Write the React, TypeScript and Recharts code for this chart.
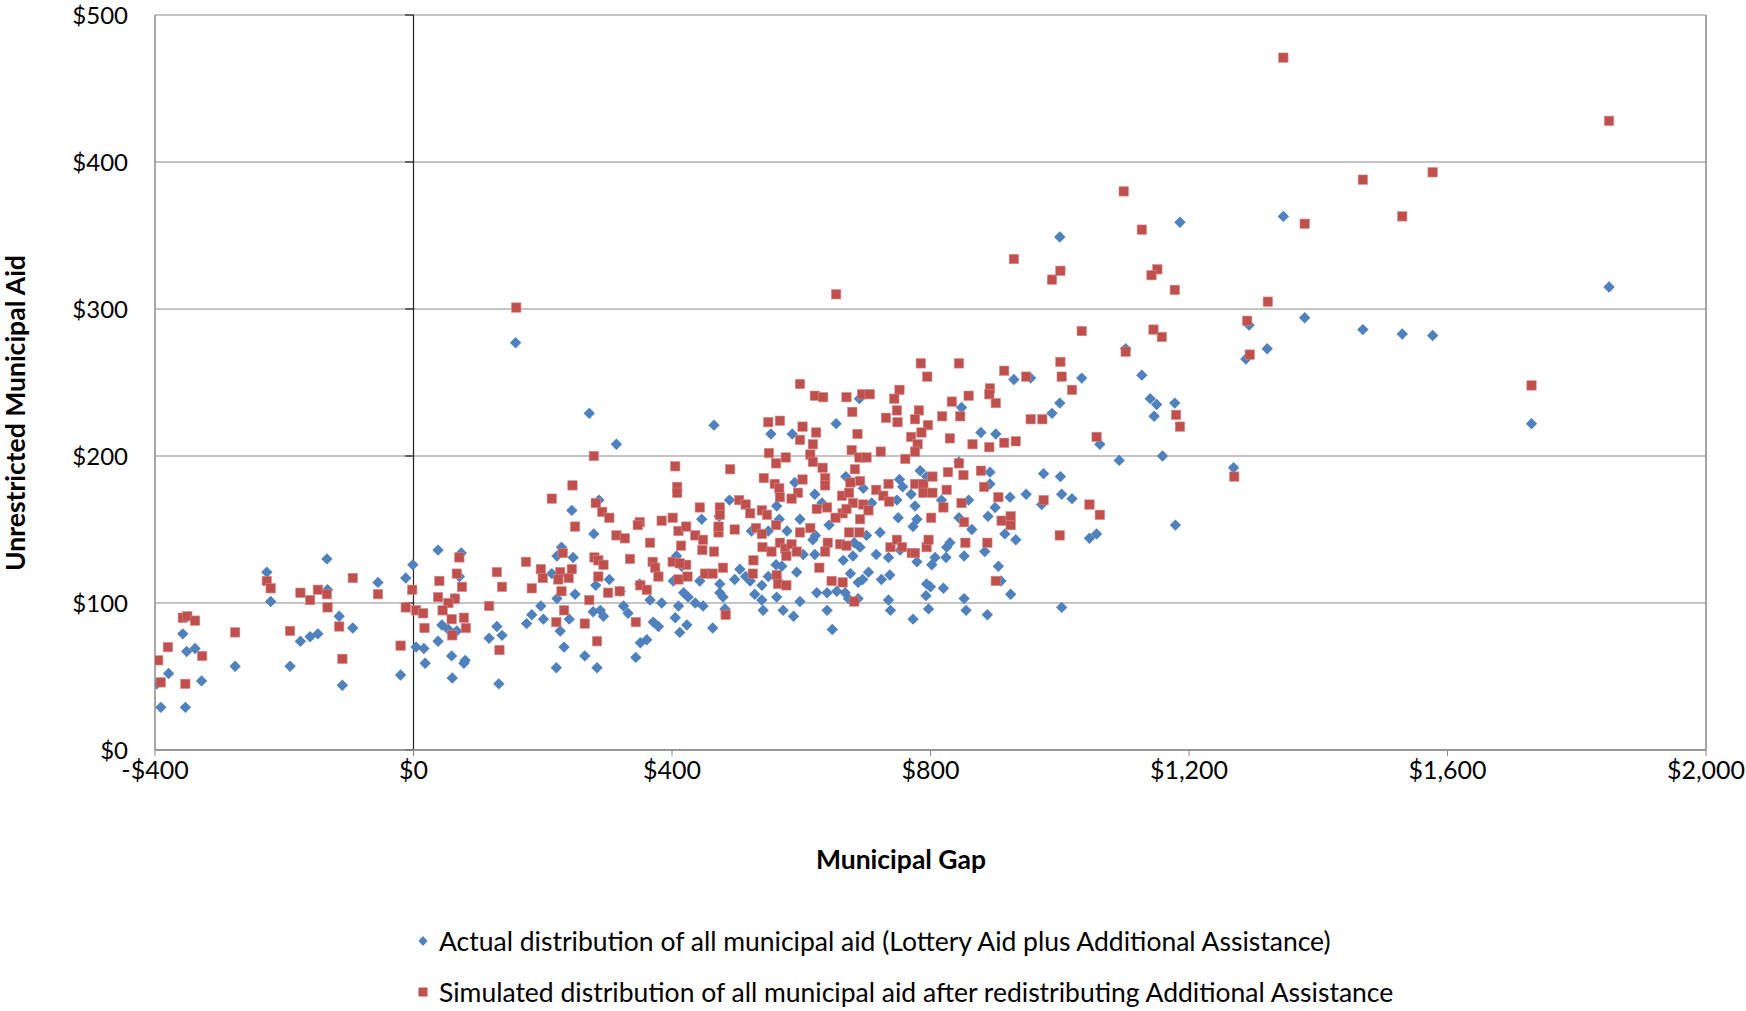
import React from "react";
import {
  ScatterChart,
  Scatter,
  XAxis,
  YAxis,
  CartesianGrid,
  ReferenceLine,
  Legend,
} from "recharts";

// Municipal gap ($) vs unrestricted municipal aid ($)
const actualPoints: [number, number][] = [
  [-397, 45], [-391, 29], [-379, 52], [-357, 79], [-351, 67], [-353, 29], [-338, 69], [-328, 47],
  [-276, 57], [-227, 121], [-221, 101], [-191, 57], [-175, 74], [-160, 77], [-148, 79], [-134, 130],
  [-133, 109], [-115, 91], [-110, 44], [-94, 83], [-55, 114], [-20, 51], [-12, 117], [-1, 126], [4, 70],
  [158, 277], [38, 136], [74, 134], [71, 118], [64, 103], [44, 85], [54, 82], [67, 81], [38, 74],
  [16, 69], [18, 59], [59, 64], [80, 61], [78, 59], [60, 49], [117, 76], [129, 84], [137, 78],
  [132, 45], [175, 86], [183, 92], [197, 98], [201, 89],
  [272, 229], [314, 208], [287, 170], [245, 163], [279, 147], [229, 138], [222, 132], [247, 131],
  [214, 120], [303, 116], [282, 112], [350, 113], [250, 106], [222, 103], [320, 108], [241, 89],
  [227, 81], [278, 94], [294, 91], [289, 95], [325, 98], [332, 93], [366, 102], [384, 100],
  [371, 87], [379, 84], [361, 75], [351, 73], [344, 63], [233, 70], [265, 64], [221, 56], [284, 56],
  [402, 115], [407, 132], [405, 90], [412, 80],
  [465, 221], [553, 215], [586, 215], [590, 182], [489, 170], [446, 157], [473, 159], [562, 166],
  [566, 157], [578, 149], [549, 149], [523, 149], [415, 125], [443, 115], [474, 113], [474, 107],
  [479, 104], [505, 123], [497, 116], [514, 118], [521, 115], [539, 112], [549, 118], [528, 106],
  [539, 102], [541, 95], [418, 107], [425, 104], [410, 98], [436, 100], [448, 98], [423, 85],
  [463, 83], [482, 96], [562, 104], [572, 95], [588, 91], [593, 121], [598, 101], [561, 126], [570, 125],
  [690, 239], [654, 222], [784, 190], [794, 186], [669, 186], [752, 184], [757, 179], [696, 178],
  [621, 174], [770, 174], [709, 168], [748, 170], [776, 166], [750, 158], [779, 157], [773, 152],
  [632, 168], [598, 157], [643, 153], [618, 143], [622, 146], [701, 146], [722, 148], [682, 141],
  [691, 138], [603, 133], [621, 133], [716, 133], [735, 131], [753, 136], [665, 129], [680, 132],
  [779, 128], [802, 126], [676, 120], [704, 121], [695, 116], [688, 114], [724, 116], [737, 119],
  [794, 113], [800, 111], [624, 107], [640, 107], [655, 108], [668, 107], [673, 103], [688, 103],
  [793, 105], [735, 102], [640, 95], [738, 95], [797, 96], [773, 89], [648, 82],
  [1000, 349], [929, 252], [955, 253], [1000, 236], [988, 229], [848, 233], [878, 216], [901, 215],
  [844, 196], [892, 189], [975, 188], [1001, 186], [892, 181], [923, 172], [948, 174], [859, 170],
  [817, 170], [972, 167], [1003, 174], [900, 165], [889, 159], [844, 158], [864, 150], [915, 147],
  [932, 143], [830, 141], [825, 138], [884, 135], [852, 132], [824, 131], [807, 131], [905, 125],
  [909, 115], [820, 110], [924, 106], [852, 103], [855, 95], [888, 92], [1003, 97],
  [1186, 359], [1102, 273], [1034, 253], [1127, 255], [1140, 239], [1150, 235], [1146, 227],
  [1178, 236], [1062, 208], [1092, 197], [1159, 200], [1019, 171], [1046, 144], [1057, 147], [1179, 153],
  [1346, 363], [1850, 315], [1379, 294], [1469, 286], [1530, 283], [1577, 282], [1293, 289],
  [1321, 273], [1288, 266], [1730, 222], [1269, 192],
];

const simulatedPoints: [number, number][] = [
  [-395, 61], [-391, 46], [-380, 70], [-357, 90], [-350, 91], [-353, 45], [-338, 88], [-327, 64],
  [-276, 80], [-227, 115], [-221, 110], [-191, 81], [-175, 107], [-160, 102], [-148, 109], [-134, 106],
  [-133, 97], [-115, 84], [-110, 62], [-94, 117], [-55, 106], [-20, 71], [-12, 97], [-2, 109], [4, 95],
  [159, 301], [71, 131], [67, 120], [40, 115], [75, 111], [38, 104], [64, 103], [54, 100], [15, 93],
  [45, 95], [59, 89], [78, 90], [81, 83], [17, 83], [60, 78], [129, 121], [137, 111], [117, 98],
  [133, 68], [174, 128], [197, 123], [183, 110], [200, 117],
  [279, 200], [246, 180], [214, 171], [282, 168], [292, 162], [303, 158], [250, 152], [314, 146],
  [327, 144], [350, 155], [347, 153], [384, 156], [401, 158], [366, 141], [231, 134], [280, 131],
  [286, 129], [294, 126], [335, 130], [370, 128], [374, 124], [379, 118], [401, 128], [227, 121],
  [224, 116], [240, 117], [245, 123], [229, 108], [286, 118], [301, 107], [319, 108], [351, 112],
  [361, 109], [272, 102], [233, 95], [221, 87], [265, 86], [284, 74], [344, 87], [405, 193],
  [408, 179], [408, 175], [410, 116],
  [598, 249], [549, 223], [567, 224], [602, 220], [598, 211], [490, 191], [550, 202], [576, 199],
  [561, 195], [542, 185], [559, 181], [566, 178], [567, 172], [595, 175], [585, 171], [443, 165],
  [474, 165], [474, 160], [504, 170], [514, 167], [521, 161], [539, 163], [547, 160], [410, 149],
  [422, 152], [436, 146], [448, 143], [414, 139], [472, 148], [472, 152], [497, 150], [530, 151],
  [539, 147], [561, 153], [598, 148], [447, 136], [465, 135], [540, 138], [554, 135], [567, 141],
  [575, 137], [585, 140], [593, 135], [577, 132], [422, 126], [412, 127], [526, 129], [479, 124],
  [451, 120], [463, 120], [525, 120], [424, 118], [562, 119], [564, 113], [577, 112], [483, 92],
  [654, 310], [785, 263], [795, 254], [621, 241], [634, 240], [670, 240], [694, 242], [706, 242],
  [752, 245], [744, 239], [679, 230], [748, 231], [731, 226], [749, 223], [782, 231], [776, 225],
  [796, 221], [623, 216], [618, 208], [687, 215], [770, 213], [786, 216], [780, 208], [678, 204],
  [690, 199], [701, 199], [723, 203], [761, 198], [776, 203], [614, 201], [618, 196], [633, 192],
  [637, 185], [683, 191], [602, 184], [637, 180], [676, 182], [691, 183], [716, 177], [727, 173],
  [735, 181], [736, 169], [776, 181], [789, 181], [789, 175], [803, 186], [663, 173], [674, 175],
  [680, 168], [696, 167], [704, 163], [691, 157], [664, 161], [670, 164], [653, 158], [624, 164],
  [640, 165], [614, 151], [674, 148], [690, 148], [660, 140], [670, 139], [641, 141], [637, 135],
  [738, 138], [748, 143], [756, 138], [771, 134], [776, 134], [794, 138], [797, 143], [628, 124],
  [647, 115], [664, 114], [682, 101],
  [929, 334], [988, 320], [1001, 326], [844, 263], [914, 258], [948, 254], [1001, 264], [1003, 254],
  [892, 246], [891, 242], [859, 241], [833, 237], [901, 236], [818, 227], [846, 227], [955, 225],
  [973, 225], [830, 212], [865, 208], [891, 206], [914, 209], [932, 210], [844, 195], [827, 189],
  [851, 187], [878, 190], [803, 175], [825, 177], [883, 179], [905, 172], [848, 168], [820, 165],
  [975, 170], [801, 158], [852, 155], [910, 156], [924, 159], [924, 153], [1000, 146], [854, 141],
  [888, 141], [901, 115],
  [1099, 380], [1127, 354], [1151, 327], [1142, 323], [1178, 313], [1034, 285], [1145, 286],
  [1158, 281], [1102, 271], [1019, 245], [1180, 228], [1186, 220], [1057, 213], [1046, 167], [1062, 160],
  [1346, 471], [1850, 428], [1469, 388], [1577, 393], [1379, 358], [1530, 363], [1322, 305],
  [1290, 292], [1294, 269], [1730, 248], [1270, 186],
];

const xTicks = [-400, 0, 400, 800, 1200, 1600, 2000];
const yTicks = [0, 100, 200, 300, 400, 500];

const actualName = "Actual distribution of all municipal aid (Lottery Aid plus Additional Assistance)";
const simulatedName = "Simulated distribution of all municipal aid after redistributing Additional Assistance";

const BLUE = "#4F81BD";
const RED = "#C0504D";
const GRID = "#898989";
const FONT = "Lato, 'Open Sans', sans-serif";

const actualData = actualPoints.map(([x, y]) => ({ x, y }));
const simulatedData = simulatedPoints.map(([x, y]) => ({ x, y }));

const money = (v: number) => (v < 0 ? "-$" : "$") + Math.abs(v).toLocaleString("en-US");

const Diamond = (props: any) => {
  const { cx, cy } = props;
  const r = 5.7;
  return (
    <path
      d={`M${cx},${cy - r} L${cx + r},${cy} L${cx},${cy + r} L${cx - r},${cy} Z`}
      fill={BLUE}
    />
  );
};

const Square = (props: any) => {
  const { cx, cy } = props;
  return <rect x={cx - 4.7} y={cy - 4.7} width={9.4} height={9.4} fill={RED} stroke="#D48A88" strokeWidth={0.6} />;
};

const LegendBox = () => (
  <div style={{ position: "absolute", left: 0, top: 0, width: 1746, fontFamily: FONT, fontSize: 26.5, color: "#000" }}>
    <div style={{ position: "absolute", left: 416, top: 925, display: "flex", alignItems: "center", whiteSpace: "nowrap" }}>
      <svg width={14} height={14} style={{ marginRight: 9 }}>
        <path d="M7,2 L11.5,7 L7,12 L2.5,7 Z" fill={BLUE} />
      </svg>
      <span>{actualName}</span>
    </div>
    <div style={{ position: "absolute", left: 416, top: 976, display: "flex", alignItems: "center", whiteSpace: "nowrap" }}>
      <svg width={14} height={14} style={{ marginRight: 9 }}>
        <rect x={2.5} y={2.5} width={9} height={9} fill={RED} />
      </svg>
      <span>{simulatedName}</span>
    </div>
  </div>
);

export default function App() {
  return (
    <div style={{ position: "absolute", left: 0, top: 0, width: 1746, height: 1011, background: "#fff" }}>
      <ScatterChart
        width={1746}
        height={1011}
        margin={{ top: 15, right: 40, left: 0, bottom: 221 }}
        style={{ fontFamily: FONT }}
      >
        <CartesianGrid horizontal vertical={false} stroke={GRID} strokeWidth={1.2} />
        <XAxis
          type="number"
          dataKey="x"
          domain={[-400, 2000]}
          ticks={xTicks}
          tickFormatter={money}
          height={40}
          tickSize={6}
          tickMargin={5}
          stroke={GRID}
          tick={{ fill: "#000", fontSize: 25 }}
          axisLine={{ stroke: GRID, strokeWidth: 1.5 }}
          tickLine={{ stroke: GRID }}
          allowDataOverflow
          label={{
            content: () => (
              <text x={901} y={869} textAnchor="middle" fontFamily={FONT} fontSize={26.5} fontWeight={700} fill="#000">
                Municipal Gap
              </text>
            ),
          }}
        />
        <YAxis
          type="number"
          dataKey="y"
          domain={[0, 500]}
          ticks={yTicks}
          tickFormatter={money}
          width={155}
          tickSize={0}
          tickMargin={27}
          tick={{ fill: "#000", fontSize: 24 }}
          axisLine={{ stroke: GRID, strokeWidth: 1.5 }}
          tickLine={false}
          allowDataOverflow
          label={{
            content: () => (
              <text
                x={15}
                y={413}
                transform="rotate(-90 15 413)"
                textAnchor="middle"
                dominantBaseline="central"
                fontFamily={FONT}
                fontSize={26.5}
                fontWeight={700}
                fill="#000"
              >
                Unrestricted Municipal Aid
              </text>
            ),
          }}
        />
        <ReferenceLine x={2000} stroke={GRID} strokeWidth={1.5} />
        <ReferenceLine x={0} stroke="#222" strokeWidth={1.2} />
        {yTicks.map((t) => (
          <ReferenceLine
            key={t}
            segment={[{ x: -13, y: t }, { x: 0, y: t }]}
            stroke="#222"
            strokeWidth={1.2}
          />
        ))}
        <Legend layout="horizontal" verticalAlign="middle" align="center" content={<LegendBox />} wrapperStyle={{ left: 0, top: 0, width: 1746, height: 0 }} />
        <Scatter name={actualName} data={actualData} fill={BLUE} shape={Diamond} isAnimationActive={false} />
        <Scatter name={simulatedName} data={simulatedData} fill={RED} shape={Square} isAnimationActive={false} />
      </ScatterChart>
    </div>
  );
}
